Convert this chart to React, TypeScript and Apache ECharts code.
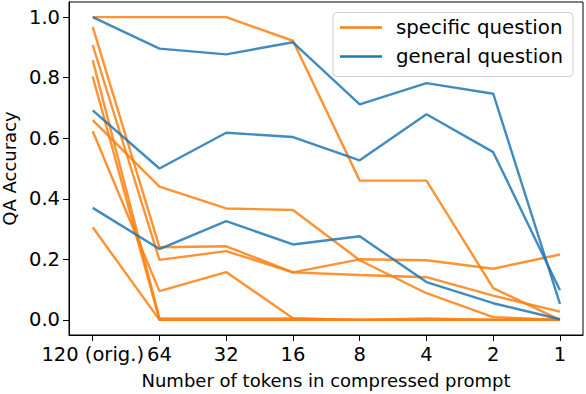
import React, { useEffect, useRef } from "react";
import * as echarts from "echarts";

const categories = ["120 (orig.)", "64", "32", "16", "8", "4", "2", "1"];
const yTicks = [0, 0.2, 0.4, 0.6, 0.8, 1.0];

// specific question (orange)
const specific1 = [1.0, 1.0, 1.0, 0.922, 0.46, 0.46, 0.105, 0.0];
const specific2 = [0.66, 0.44, 0.368, 0.363, 0.197, 0.088, 0.009, 0.0];
const specific3 = [0.306, 0.0, 0.0, 0.0, 0.0, 0.0, 0.0, 0.0];
const specific4 = [0.968, 0.24, 0.243, 0.157, 0.2, 0.197, 0.169, 0.216];
const specific5 = [0.908, 0.198, 0.227, 0.157, 0.148, 0.141, 0.08, 0.027];
const specific6 = [0.623, 0.095, 0.158, 0.005, 0.0, 0.0, 0.0, 0.0];
const specific7 = [0.858, 0.005, 0.005, 0.005, 0.0, 0.005, 0.0, 0.0];
const specific8 = [0.804, 0.0, 0.0, 0.0, 0.0, 0.0, 0.0, 0.0];

// general question (blue)
const general1 = [1.0, 0.896, 0.877, 0.917, 0.712, 0.782, 0.747, 0.053];
const general2 = [0.692, 0.5, 0.618, 0.604, 0.527, 0.679, 0.554, 0.098];
const general3 = [0.37, 0.234, 0.326, 0.249, 0.276, 0.125, 0.055, 0.002];

const specificSeries = [specific1, specific2, specific3, specific4, specific5, specific6, specific7, specific8];
const generalSeries = [general1, general2, general3];

const ORANGE = "#ff7f0e";
const BLUE = "#1f77b4";
const FONT = "DejaVu Sans";

export default function App() {
  const ref = useRef<HTMLDivElement>(null);
  useEffect(() => {
    if (!ref.current) return;
    const chart = echarts.init(ref.current, undefined, { renderer: "svg" });
    const mk = (name: string, vals: number[], color: string) => ({
      name,
      type: "line",
      data: vals.map((v, i) => [i, v]),
      showSymbol: false,
      symbol: "none",
      lineStyle: { color, width: 2.4, opacity: 0.85 },
      itemStyle: { color },
      z: 2,
    });
    const series = [
      ...specificSeries.map((s) => mk("specific question", s, ORANGE)),
      ...generalSeries.map((s) => mk("general question", s, BLUE)),
    ];
    chart.setOption({
      animation: false,
      grid: {
        left: 69,
        right: 3,
        top: 2,
        bottom: 59,
        containLabel: false,
        outerBoundsMode: "none",
        show: true,
        borderColor: "#000",
        borderWidth: 1,
        backgroundColor: "transparent",
      },
      xAxis: {
        type: "value",
        min: -0.355,
        max: 7.345,
        splitLine: { show: false },
        axisLine: { show: true, onZero: false, lineStyle: { color: "#000", width: 1 } },
        axisTick: { show: true, inside: false, length: 6, customValues: categories.map((_, i) => i), lineStyle: { color: "#000" } },
        axisLabel: {
          customValues: categories.map((_, i) => i),
          formatter: (v: number) => categories[Math.round(v)] ?? "",
          color: "#000",
          fontFamily: FONT,
          fontSize: 19.5,
          margin: 9,
        },
        name: "Number of tokens in compressed prompt",
        nameLocation: "middle",
        nameGap: 36,
        nameTextStyle: { color: "#000", fontFamily: FONT, fontSize: 18 },
      },
      yAxis: {
        type: "value",
        min: -0.05,
        max: 1.05,
        splitLine: { show: false },
        axisLine: { show: true, onZero: false, lineStyle: { color: "#000", width: 1 } },
        axisTick: { show: true, inside: false, length: 6, customValues: yTicks, lineStyle: { color: "#000" } },
        axisLabel: {
          customValues: yTicks,
          formatter: (v: number) => v.toFixed(1),
          color: "#000",
          fontFamily: FONT,
          fontSize: 19.5,
          margin: 9,
        },
        name: "QA Accuracy",
        nameLocation: "middle",
        nameGap: 51,
        nameTextStyle: { color: "#000", fontFamily: FONT, fontSize: 18 },
      },
      legend: {
        data: ["specific question", "general question"],
        orient: "vertical",
        left: 335,
        top: 12,
        itemWidth: 42,
        itemHeight: 2.5,
        itemGap: 8,
        icon: "rect",
        textStyle: { color: "#000", fontFamily: FONT, fontSize: 19.8, lineHeight: 21, padding: [0, 0, 0, 9] },
        z: 10,
      },
      graphic: [
        {
          type: "rect",
          shape: { x: 333, y: 12.5, width: 240, height: 64, r: 4 },
          style: { fill: "rgba(255,255,255,0.8)", stroke: "#d0d0d0", lineWidth: 1 },
          z: 5,
        },
      ],
      series,
    });
    return () => chart.dispose();
  }, []);
  return <div ref={ref} style={{ width: 586, height: 394, position: "absolute", left: 0, top: 0 }} />;
}
